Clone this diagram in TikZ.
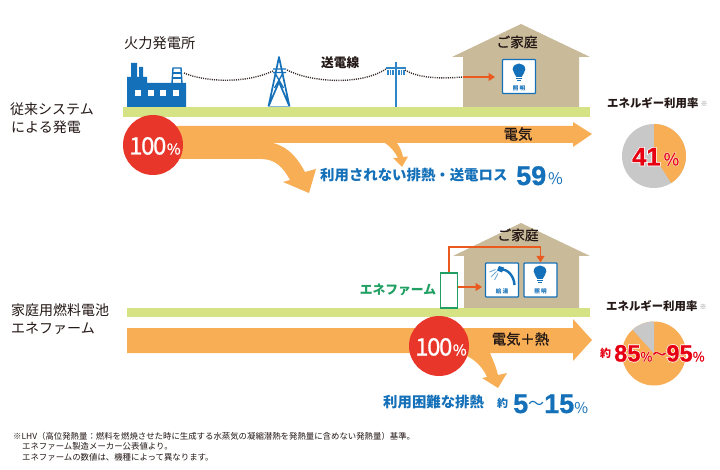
\documentclass[tikz,border=0pt]{standalone}
\usepackage{fontspec}
\usetikzlibrary{arrows.meta}
\setmainfont{Noto Sans CJK JP}
\newfontfamily\jpmed{Noto Sans CJK JP}[FakeBold=0.8]
\newfontfamily\jphalo{Noto Sans CJK JP}[FakeBold=6]
\newfontfamily\numf{Liberation Sans Bold}[FakeBold=0.8]
\newfontfamily\numhalo{Liberation Sans Bold}[FakeBold=7]
\newcommand\szf[1]{\fontsize{#1}{#1}\selectfont}
\definecolor{ink}{HTML}{231815}
\definecolor{flow}{HTML}{F8AE55}
\definecolor{ground}{HTML}{D5E384}
\definecolor{house}{HTML}{C9BB9A}
\definecolor{hot}{HTML}{E9362B}
\definecolor{blu}{HTML}{1470B8}
\definecolor{lblu}{HTML}{2E86C8}
\definecolor{feed}{HTML}{EA5A1E}
\definecolor{pie}{HTML}{C8C8C8}
\definecolor{rate}{HTML}{E60012}
\definecolor{efg}{HTML}{22A064}
\tikzset{
  x=1pt,y=-1pt,
  label/.style={text=ink,inner sep=0pt,anchor=base west},
  cname/.style={text=ink,inner sep=0pt,anchor=center,font=\jpmed\szf{13.7}},
  rlabel/.style={text=ink,inner sep=0pt,anchor=base west,font=\szf{11.4}\bfseries},
  mark note/.style={text=pie!70!black,inner sep=0pt,anchor=center,font=\szf{7}},
  bluetext/.style={text=blu,inner sep=0pt,anchor=base west},
  redtext/.style={text=rate,inner sep=0pt,anchor=base west},
  halotext/.style={text=white,inner sep=0pt,anchor=base west},
  iconbox/.style={draw=blu,line width=1.3pt,fill=white,rounded corners=0.8pt,minimum width=33pt,minimum height=34pt,inner sep=0pt},
  icontext/.style={text=blu,inner sep=0pt,anchor=center,font=\szf{5.6}\bfseries},
  badge/.style={circle,fill=hot,minimum size=60pt,inner sep=0pt,text=white},
  feedline/.style={draw=feed,line width=1.5pt,-{Triangle[length=6.5pt,width=8pt]}},
  wire/.style={draw=ink!90,line width=1.4pt,dash pattern=on 1.1pt off 1.1pt},
  note/.style={text=ink,inner sep=0pt,anchor=base west,font=\szf{8.4}},
}
\newcommand\bulb[2]{%
  \fill[blu] (#1-2.6,#2+4) .. controls (#1-3,#2+1.5) and (#1-6.3,#2+0) .. (#1-6.3,#2-3.6)
     .. controls (#1-6.3,#2-7.4) and (#1-3,#2-9.5) .. (#1,#2-9.5)
     .. controls (#1+3,#2-9.5) and (#1+6.3,#2-7.4) .. (#1+6.3,#2-3.6)
     .. controls (#1+6.3,#2+0) and (#1+3,#2+1.5) .. (#1+2.6,#2+4) -- cycle;
  \fill[blu] (#1-2.8,#2+4.8) rectangle (#1+2.8,#2+6);
  \fill[blu] (#1-1.8,#2+6.8) rectangle (#1+1.8,#2+8);
}
\newcommand\hundred{\jpmed\szf{24}1\kern-1.4pt0\kern-1.4pt0\kern0.5pt\szf{15}\%}
\begin{document}
\begin{tikzpicture}
\useasboundingbox (0,0) rectangle (720,470);
\fill[white] (0,0) rectangle (720,470);

% ---------- upper system ----------
\node[label,font=\szf{14.2}] (plant) at (124,49) {火力発電所};
% factory
\fill[blu] (127,107) -- (127,77) -- (131,77) -- (131,63) -- (137,63) -- (137,77) -- (139,77) -- (139,67) -- (143,67) -- (143,77) -- (147,77) -- (147,83) -- (186,83) -- (186,107) -- cycle;
\foreach \wx in {135,147.5,160,173} \fill[white] (\wx,90) rectangle (\wx+6,96);
\draw[blu,line width=1.4pt] (172,83.5) -- (173,68) -- (181,68) -- (182,83.5);
\draw[blu,line width=1.3pt] (172.5,73) -- (181.5,73) (172.5,78) -- (181.5,78);
% tower
\draw[blu,line width=1.7pt,line join=round] (268.5,106.5) -- (279,57) -- (289.5,106.5) -- (279,82) -- (268.5,106.5);
\draw[blu,line width=1.3pt] (273,69) -- (286,69) (273,72.5) -- (286,72.5) (275,73) -- (283.5,88) (283,73) -- (274.5,88);
\draw[lblu!60,line width=0.7pt] (268.5,106.5) -- (289.5,106.5);
% pole
\draw[lblu,line width=1.8pt] (396,62) -- (396,107);
\draw[lblu,line width=1.2pt] (386,68) -- (406,68);
\foreach \ix in {388,390.5,393,399,401.5,404} \draw[lblu,line width=1.4pt] (\ix,70) -- (\ix,75);
% wires
\coordinate (p1) at (184,73); \coordinate (t1) at (273,71);
\coordinate (t2) at (287,70); \coordinate (q1) at (386,69);
\coordinate (q2) at (405,70); \coordinate (h1) at (463,77);
\coordinate (lampin) at (495,77);
\draw[wire] (p1) .. controls (205,82) and (245,84) .. (t1);
\draw[wire] (t2) .. controls (310,82) and (360,86) .. (q1);
\draw[wire] (q2) .. controls (418,78) and (440,79) .. (h1);
\node[label,font=\szf{12.7}\bfseries] (line) at (321,67.5) {送電線};
% ground and house
\fill[ground] (123,107) rectangle (590,117);
\fill[house] (521,24) -- (590,57) -- (579,57) -- (579,107) -- (463,107) -- (463,57) -- (452,57) -- cycle;
\node[cname] (home1) at (517,42) {ご家庭};
\node[iconbox] (lamp1) at (519,76.5) {};
\bulb{519}{73}
\node[icontext] at (519,88) {照 明};
\draw[feedline] (h1) -- (lampin);
% flow arrow
\fill[flow] (160,126) -- (573,126) -- (573,122) -- (592,134) -- (573,147) -- (573,143)
  -- (397,143) .. controls (400,147) and (402,152) .. (403,157) -- (408,156.5) -- (402,167) -- (393,158) -- (398,158) .. controls (395,152) and (391,147) .. (385,143)
  -- (273,143) .. controls (289,147) and (298,159) .. (305,172) -- (316,169) -- (309,193) -- (283,182) -- (290,180) .. controls (283,167) and (275,159) .. (261,159)
  -- (160,159) -- cycle;
\node[badge] (in1) at (153,145) {};
\node[inner sep=0pt,anchor=base west,text=white] at (129,154.5) {\hundred};
\node[inner sep=0pt,anchor=center,font=\jpmed\szf{14.5},text=ink] (elec) at (518,134) {電気};
\node[bluetext,font=\szf{14.4}\bfseries] (loss1) at (320,181) {利用されない排熱・送電ロス};
\node[bluetext] (v59) at (516,185) {{\numf\szf{27}59}\hspace{2pt}{\szf{16}\%}};
% pie 1
\node[rlabel] (r1) at (607,108) {エネルギー利用率};
\node[mark note] at (704,104) {※};
\fill[pie] (654,156) circle[radius=32pt];
\fill[flow] (654,156) -- (654,124) arc[start angle=90,delta angle=-147.6,radius=32pt] -- cycle;
\node[halotext] at (632,165.5) {{\numhalo\szf{25.5}41}\hspace{3pt}{\jphalo\szf{17}\%}};
\node[redtext] (p41) at (632,165.5) {{\numf\szf{25.5}41}\hspace{3pt}{\jpmed\szf{17}\%}};
\node[label,font=\szf{14}] (sysA) at (10,115) {従来システム};
\node[label,font=\szf{14}] (sysAb) at (11,133) {による発電};

% ---------- lower system ----------
\node[label,font=\szf{14}] (sysB) at (11,316) {家庭用燃料電池};
\node[label,font=\szf{14}] (sysBb) at (11,333) {エネファーム};
\fill[ground] (127,308) rectangle (590,317);
\fill[house] (521,223) -- (590,256) -- (579,256) -- (579,308) -- (464,308) -- (464,256) -- (453,256) -- cycle;
\node[cname] (home2) at (518,235) {ご家庭};
\node[draw=efg,line width=1.5pt,fill=white,minimum width=17pt,minimum height=35pt,inner sep=0pt] (ef) at (449,290.5) {};
\node[text=efg,inner sep=0pt,anchor=center,font=\szf{12.8}\bfseries] (eflabel) at (398,290) {エネファーム};
\node[iconbox] (bath) at (502,280) {};
\node[iconbox] (lamp2) at (540.5,280) {};
\bulb{540}{275}
\node[icontext] at (540.5,291) {照 明};
\node[icontext] at (502,291) {給 湯};
% shower
\draw[blu,line width=2.4pt] (514.5,285) .. controls (514,276) and (508,269.5) .. (501,269);
\fill[blu] (499,266) -- (504,267.5) -- (502,272.5) -- (497,270.5) -- cycle;
\draw[lblu!70,line width=0.9pt] (495.5,269.5) -- (489.5,272) (496.5,271.5) -- (491,277) (498,273.5) -- (494.5,280);
% feeds
\coordinate (bathin) at (482,287);
\draw[feedline] (ef.north) -- ++(0,-25) -| (lamp2.north);
\draw[feedline] (ef.east |- bathin) -- (bathin);
% flow arrow
\fill[flow] (127,328) -- (573,328) -- (573,319) -- (592,340) -- (573,361) -- (573,353)
  -- (490,353) .. controls (493,360) and (496,367) .. (498,375) -- (507,373) -- (498,388) -- (482,378) -- (487,377) .. controls (483,368) and (476,360) .. (465,355)
  -- (440,353) -- (127,353) -- cycle;
\node[badge] (in2) at (439,346) {};
\node[inner sep=0pt,anchor=base west,text=white] at (415,355.5) {\hundred};
\node[inner sep=0pt,anchor=center,font=\jpmed\szf{14.3},text=ink] (heat) at (520.5,339) {電気＋熱};
\node[bluetext,font=\szf{14.4}\bfseries] (loss2) at (383,407) {利用困難な排熱};
\node[bluetext,font=\szf{11}\bfseries] (ap1) at (497,407) {約};
\node[bluetext] (v515) at (513,413) {{\numf\szf{27}5}\raisebox{4pt}{\szf{16}～}{\numf\szf{27}15}{\szf{15}\%}};
% pie 2
\node[rlabel] (r2) at (606,311) {エネルギー利用率};
\node[mark note] at (703,307) {※};
\fill[flow] (654,353.5) circle[radius=32pt];
\fill[pie] (654,353.5) -- (654,321.5) arc[start angle=90,delta angle=42,radius=32pt] -- cycle;
\node[halotext] at (614,361.5) {{\numhalo\szf{23.6}85}{\jphalo\szf{13}\%}\raisebox{2.5pt}{\jphalo\szf{14}～}{\numhalo\szf{23.6}95}{\jphalo\szf{13}\%}};
\node[redtext,font=\szf{11}\bfseries] (ap2) at (600,357) {約};
\node[redtext] (v8595) at (614,361.5) {{\numf\szf{23.6}85}{\jpmed\szf{13}\%}\raisebox{2.5pt}{\jpmed\szf{14}～}{\numf\szf{23.6}95}{\jpmed\szf{13}\%}};
% footnote
\node[note] (n1) at (13,439) {※LHV（高位発熱量：燃料を燃焼させた時に生成する水蒸気の凝縮潜熱を発熱量に含めない発熱量）基準。};
\node[note] (n2) at (22,449.5) {エネファーム製造メーカー公表値より。};
\node[note] (n3) at (22,460.5) {エネファームの数値は、機種によって異なります。};
\end{tikzpicture}
\end{document}
